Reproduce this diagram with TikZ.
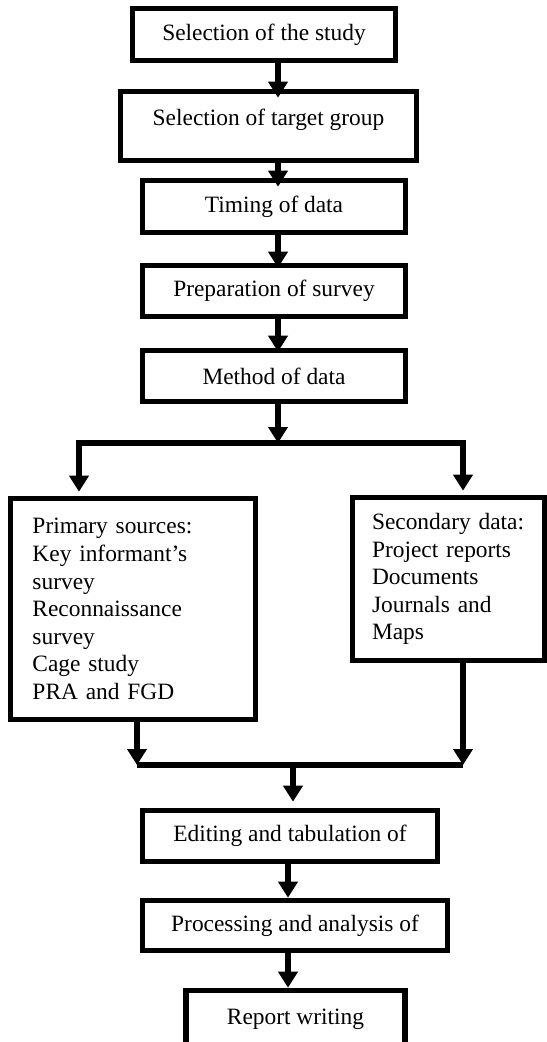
\documentclass[tikz,border=0pt]{standalone}
\usepackage{fontspec}
\setmainfont{Liberation Serif}
\usetikzlibrary{arrows.meta,positioning,calc}

\begin{document}
\begin{tikzpicture}[
        x=0.5pt, y=-0.5pt,
        box/.style={draw=black, line width=2.8pt, inner sep=0pt,
            font=\fontsize{11.7}{13.8}\selectfont},
        src/.style={box, align=left, inner ysep=0pt},
        arr/.style={line width=2.8pt, line join=miter,
            -{Triangle[width=9.5pt,length=8pt]}},
        link/.style={line width=2.8pt},
    ]
    \useasboundingbox (0,0) rectangle (546,1042);

    % steps down to the method
    \node[box,minimum width=131.5pt,minimum height=26pt] at (264,34.5) (study) {Selection of the study};
    \node[box,minimum width=148pt,minimum height=34.5pt,text depth=8.5pt] at (268.5,126) (target) {Selection of target group};
    \node[box,minimum width=131.5pt,minimum height=26pt] at (274,206.5) (timing) {Timing of data};
    \node[box,minimum width=131.5pt,minimum height=25.5pt] at (274,291) (survey) {Preparation of survey};
    \node[box,minimum width=131.5pt,minimum height=25.5pt] at (274,376) (method) {Method of data};

    % the two kinds of sources
    \node[src,text width=100.5pt,inner xsep=11pt,minimum height=110.5pt] at (133,609) (primary)
        {Primary sources:\\Key informant's\\survey\\Reconnaissance\\survey\\Cage study\\PRA and FGD};
    \node[src,text width=76.5pt,inner xsep=9.75pt,minimum height=81.5pt] at (448.5,579) (secondary)
        {Secondary data:\\Project reports\\Documents\\Journals and\\Maps};

    % steps after the join
    \node[box,minimum width=147.5pt,minimum height=25.5pt] at (290,836) (editing) {Editing and tabulation of};
    \node[box,minimum width=152.5pt,minimum height=25pt] at (295,925.5) (processing) {Processing and analysis of};
    \node[box,minimum width=109.5pt,minimum height=28.5pt] at (295.5,1019) (report) {Report writing};

    % arrows of the upper chain
    \coordinate (spine) at (278,0);
    \draw[arr,shorten >=-4.5pt] (study.south -| spine) -- (target.north -| spine);
    \draw[arr,shorten >=-4.5pt] (target.south -| spine) -- (timing.north -| spine);
    \draw[arr,shorten >=-2.5pt] (timing.south -| spine) -- (survey.north -| spine);
    \draw[arr,shorten >=-2pt] (survey.south -| spine) -- (method.north -| spine);

    % split into the sources
    \coordinate (split) at (278,443);
    \coordinate (lsplit) at (79,443);
    \coordinate (rsplit) at (463,443);
    \draw[arr] (method.south -| spine) -- (split);
    \draw[arr,shorten >=2pt] (split) -| (primary.north -| lsplit);
    \draw[arr,shorten >=2pt] (split) -| (secondary.north -| rsplit);

    % join of the sources
    \coordinate (ljoin) at (137,765);
    \coordinate (rjoin) at (463,765);
    \coordinate (join) at (293,765);
    \draw[arr] (primary.south -| ljoin) -- (ljoin);
    \draw[arr] (secondary.south -| rjoin) -- (rjoin);
    \draw[link] (ljoin) -- (rjoin);
    \draw[arr,shorten >=3pt] (join) -- (editing.north -| join);

    % arrows of the lower chain
    \coordinate (bspine) at (288,0);
    \draw[arr] (editing.south -| bspine) -- (processing.north -| bspine);
    \draw[arr] (processing.south -| bspine) -- (report.north -| bspine);
\end{tikzpicture}
\end{document}
